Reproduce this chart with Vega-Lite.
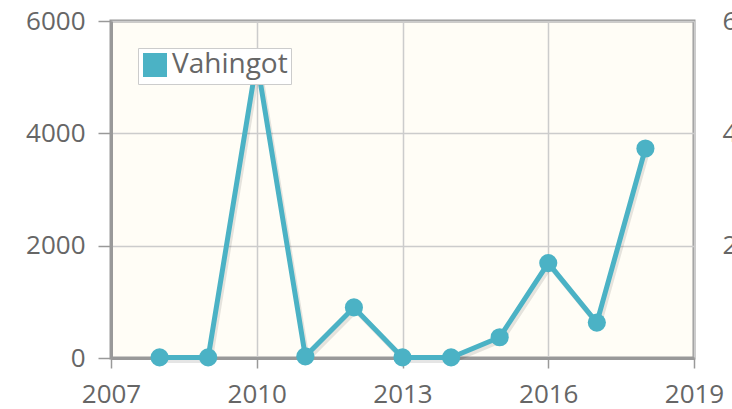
{
  "$schema": "https://vega.github.io/schema/vega-lite/v6.json",
  "width": 583,
  "height": 337,
  "autosize": "none",
  "padding": {"left": 111, "top": 21, "right": 38, "bottom": 51},
  "background": "white",
  "config": {
    "font": "Open Sans",
    "view": {"fill": "#fffdf6", "stroke": "#999999", "strokeWidth": 3},
    "axis": {
      "labelFont": "Open Sans",
      "labelFontSize": 26,
      "labelColor": "#666666",
      "gridColor": "#cccccc",
      "gridWidth": 1.5,
      "tickColor": "#999999",
      "tickWidth": 1.5,
      "domainColor": "#999999",
      "domainWidth": 3,
      "title": null
    }
  },
  "data": {
    "values": [
      {"year": 2008, "value": 10},
      {"year": 2009, "value": 10},
      {"year": 2010, "value": 5300},
      {"year": 2011, "value": 30},
      {"year": 2012, "value": 900},
      {"year": 2013, "value": 10},
      {"year": 2014, "value": 10},
      {"year": 2015, "value": 370},
      {"year": 2016, "value": 1690},
      {"year": 2017, "value": 630},
      {"year": 2018, "value": 3730}
    ]
  },
  "encoding": {
    "x": {
      "field": "year",
      "type": "quantitative",
      "scale": {"domain": [2007, 2019], "nice": false, "zero": false},
      "axis": {
        "values": [2007, 2010, 2013, 2016, 2019],
        "format": "d",
        "tickSize": 10,
        "labelPadding": 13,
        "labelFlush": false
      }
    },
    "y": {
      "field": "value",
      "type": "quantitative",
      "scale": {"domain": [0, 6000], "nice": false}
    }
  },
  "layer": [
    {
      "mark": {"type": "line", "color": "#000000", "strokeOpacity": 0.1, "strokeWidth": 5, "xOffset": 2, "yOffset": 3},
      "encoding": {
        "y": {
          "field": "value",
          "type": "quantitative",
          "axis": {
            "values": [0, 2000, 4000, 6000],
            "format": "d",
            "tickSize": 13,
            "labelPadding": 13,
            "grid": true
          }
        }
      }
    },
    {
      "mark": {"type": "line", "color": "#4bb2c5", "strokeWidth": 5},
      "encoding": {
        "y": {"field": "value", "type": "quantitative", "axis": null}
      }
    },
    {
      "mark": {"type": "point", "filled": true, "opacity": 1, "size": 330},
      "encoding": {
        "y": {
          "field": "value",
          "type": "quantitative",
          "axis": {
            "orient": "right",
            "values": [2000, 4000, 6000],
            "format": "d",
            "grid": false,
            "ticks": false,
            "domain": false,
            "labelAlign": "left",
            "labelPadding": 28
          }
        },
        "color": {
          "condition": {"test": "datum.year === 2010", "value": "#ade0e8"},
          "datum": "Vahingot",
          "scale": {"range": ["#4bb2c5"]},
          "legend": {
            "title": null,
            "orient": "none",
            "legendX": 27,
            "legendY": 27,
            "symbolType": "square",
            "symbolSize": 650,
            "symbolStrokeColor": "white",
            "symbolStrokeWidth": 1.5,
            "labelFont": "Open Sans",
            "labelFontSize": 28,
            "labelColor": "#666666",
            "labelOffset": 3,
            "fillColor": "white",
            "strokeColor": "#cccccc",
            "padding": 3
          }
        }
      }
    }
  ],
  "resolve": {"axis": {"y": "independent"}}
}
